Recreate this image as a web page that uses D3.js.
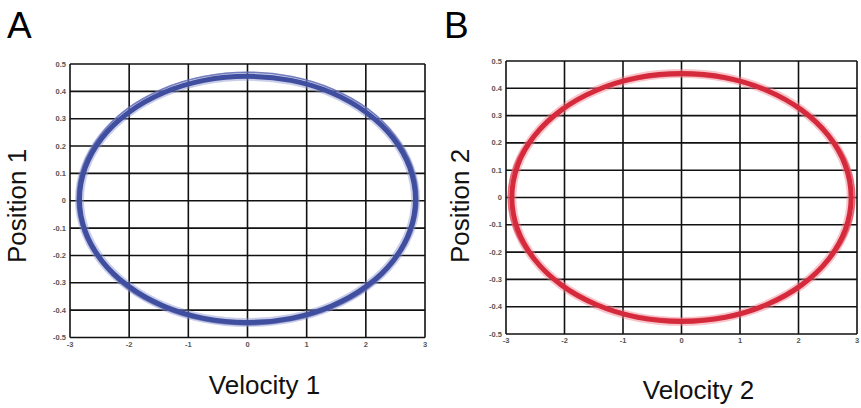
<!DOCTYPE html>
<html><head><meta charset="utf-8">
<script src="https://cdn.jsdelivr.net/npm/d3@7"></script>
<style>body{margin:0;background:#fff}svg{display:block}</style>
</head><body>
<svg id="c" width="861" height="408"></svg>
<script>
// ---- data ----
const xTicks = [-3,-2,-1,0,1,2,3];
const yTicks = [0.5,0.4,0.3,0.2,0.1,0,-0.1,-0.2,-0.3,-0.4,-0.5];
const xTickLabels = ["-3","-2","-1","0","1","2","3"];
const yTickLabels = ["0.5","0.4","0.3","0.2","0.1","0","-0.1","-0.2","-0.3","-0.4","-0.5"];

// Panel A: Velocity 1 vs Position 1 (main trace and an outer trace)
const velA1 = [2.84,2.743,2.459,2.008,1.42,0.735,0,-0.735,-1.42,-2.008,-2.459,-2.743,-2.84,-2.743,-2.459,-2.008,-1.42,-0.735,0,0.735,1.42,2.008,2.459,2.743];
const posA1 = [0.005,0.121,0.23,0.323,0.395,0.44,0.455,0.44,0.395,0.323,0.23,0.121,0.005,-0.111,-0.22,-0.313,-0.385,-0.43,-0.445,-0.43,-0.385,-0.313,-0.22,-0.111];
const velA2 = [2.88,2.78,2.49,2.04,1.44,0.745,0,-0.745,-1.44,-2.04,-2.49,-2.78,-2.88,-2.78,-2.49,-2.04,-1.44,-0.745,0,0.745,1.44,2.04,2.49,2.78];
const posA2 = [0.008,0.128,0.239,0.335,0.408,0.454,0.47,0.454,0.408,0.335,0.239,0.128,0.008,-0.112,-0.223,-0.319,-0.392,-0.438,-0.454,-0.438,-0.392,-0.319,-0.223,-0.112];

// Panel B: Velocity 2 vs Position 2
const velB1 = [2.9,2.8,2.51,2.05,1.45,0.75,0,-0.75,-1.45,-2.05,-2.51,-2.8,-2.9,-2.8,-2.51,-2.05,-1.45,-0.75,0,0.75,1.45,2.05,2.51,2.8];
const posB1 = [0,0.118,0.227,0.321,0.393,0.439,0.454,0.439,0.393,0.321,0.227,0.118,0,-0.118,-0.227,-0.321,-0.393,-0.439,-0.454,-0.439,-0.393,-0.321,-0.227,-0.118];
const velB2 = [2.96,2.86,2.56,2.09,1.48,0.766,0,-0.766,-1.48,-2.09,-2.56,-2.86,-2.96,-2.86,-2.56,-2.09,-1.48,-0.766,0,0.766,1.48,2.09,2.56,2.86];
const posB2 = [0,0.115,0.223,0.315,0.386,0.431,0.446,0.431,0.386,0.315,0.223,0.115,0,-0.115,-0.223,-0.315,-0.386,-0.431,-0.446,-0.431,-0.386,-0.315,-0.223,-0.115];

const svg = d3.select("#c");
const FONT = "Liberation Sans, Arial, Helvetica, sans-serif";

function panel(cfg){
  const x = d3.scaleLinear().domain([-3,3]).range([cfg.x0,cfg.x1]);
  const y = d3.scaleLinear().domain([-0.5,0.5]).range([cfg.y0,cfg.y1]);
  const g = svg.append("g");
  // grid
  g.selectAll(".vg").data(xTicks).enter().append("line")
    .attr("x1",d=>x(d)).attr("x2",d=>x(d)).attr("y1",y(0.5)).attr("y2",y(-0.5))
    .attr("stroke","#111").attr("stroke-width",1.6);
  g.selectAll(".hg").data(yTicks).enter().append("line")
    .attr("x1",x(-3)).attr("x2",x(3)).attr("y1",d=>y(d)).attr("y2",d=>y(d))
    .attr("stroke","#111").attr("stroke-width",1.6);
  // tick labels
  g.selectAll(".yl").data(yTicks).enter().append("text")
    .attr("x",x(-3)-4).attr("y",d=>y(d)+2.5).attr("text-anchor","end")
    .attr("font-family",FONT).attr("font-size",7.5).attr("font-weight","bold").attr("fill","#555")
    .text((d,i)=>yTickLabels[i]);
  g.selectAll(".xl").data(xTicks).enter().append("text")
    .attr("x",d=>x(d)).attr("y",y(-0.5)+9).attr("text-anchor","middle")
    .attr("font-family",FONT).attr("font-size",7.5).attr("font-weight","bold").attr("fill","#555")
    .text((d,i)=>xTickLabels[i]);
  // traces
  const line = d3.line().x(d=>x(d[0])).y(d=>y(d[1])).curve(d3.curveCatmullRomClosed);
  const p1 = cfg.v1.map((v,i)=>[v,cfg.p1[i]]);
  const p2 = cfg.v2.map((v,i)=>[v,cfg.p2[i]]);
  g.append("path").attr("d",line(p1)).attr("fill","none").attr("stroke",cfg.halo).attr("stroke-width",9).attr("opacity",0.45);
  g.append("path").attr("d",line(p2)).attr("fill","none").attr("stroke",cfg.thin).attr("stroke-width",1.6).attr("opacity",0.8);
  g.append("path").attr("d",line(p1)).attr("fill","none").attr("stroke",cfg.core).attr("stroke-width",5);
  // titles
  svg.append("text").attr("transform",`translate(${cfg.ytx},206) rotate(-90)`)
    .attr("text-anchor","middle").attr("font-family",FONT).attr("font-size",26).attr("fill","#111").text(cfg.ytitle);
  svg.append("text").attr("x",(cfg.x0+cfg.x1)/2+17).attr("y",cfg.xty).attr("text-anchor","middle")
    .attr("font-family",FONT).attr("font-size",26).attr("fill","#111").text(cfg.xtitle);
  svg.append("text").attr("x",cfg.lx).attr("y",38).attr("font-family",FONT).attr("font-size",37).attr("fill","#000").text(cfg.letter);
}

panel({x0:70,x1:425,y0:337.5,y1:64,v1:velA1,p1:posA1,v2:velA2,p2:posA2,
  core:"#3f4e9e",halo:"#8a93cf",thin:"#5c68b4",ytitle:"Position 1",xtitle:"Velocity 1",ytx:26,xty:394,letter:"A",lx:7});
panel({x0:506,x1:857,y0:334,y1:61,v1:velB1,p1:posB1,v2:velB2,p2:posB2,
  core:"#d42a3c",halo:"#f07f8c",thin:"#e0505f",ytitle:"Position 2",xtitle:"Velocity 2",ytx:469,xty:399,letter:"B",lx:444});
</script>
</body></html>
